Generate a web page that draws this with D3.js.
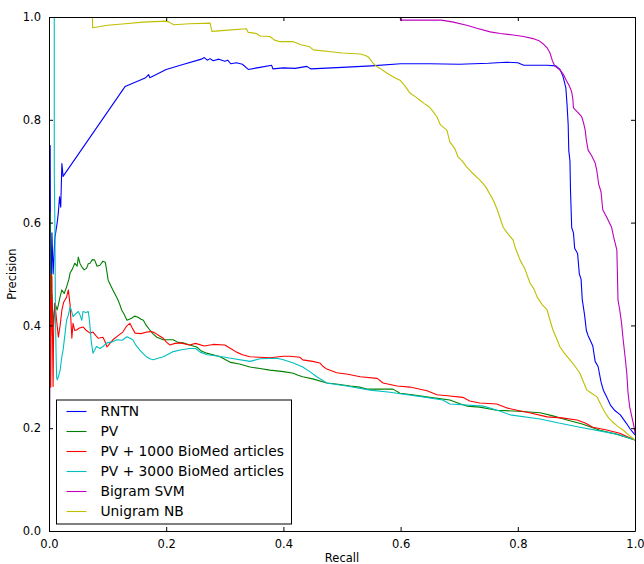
<!DOCTYPE html>
<html>
<head>
<meta charset="utf-8">
<script src="https://cdn.jsdelivr.net/npm/d3@7"></script>
<style>
  body { margin: 0; background: #fff; }
  svg text { font-family: "DejaVu Sans", sans-serif; fill: #000; }
  .axis path, .axis line { stroke: #000; }
</style>
</head>
<body>
<svg id="chart" width="644" height="564"></svg>
<script>
// series labels + colours (matplotlib classic cycle)
var seriesNames = ["RNTN", "PV", "PV + 1000 BioMed articles", "PV + 3000 BioMed articles", "Bigram SVM", "Unigram NB"];
var seriesColors = ["#0000ff", "#008000", "#ff0000", "#00bfbf", "#bf00bf", "#bfbf00"];
var tickValues = [0.0, 0.2, 0.4, 0.6, 0.8, 1.0];

// [recall, precision]
var rntnPts = [[0.001,0.20],[0.002,0.75],[0.003,0.42],[0.005,0.58],[0.007,0.50],[0.010,0.57],[0.014,0.60],[0.016,0.62],[0.018,0.65],[0.020,0.63],[0.022,0.715],[0.024,0.69],[0.13,0.865],[0.165,0.882],[0.170,0.888],[0.172,0.882],[0.20,0.898],[0.23,0.908],[0.26,0.918],[0.265,0.921],[0.27,0.916],[0.275,0.919],[0.28,0.915],[0.29,0.918],[0.30,0.914],[0.305,0.916],[0.31,0.909],[0.32,0.911],[0.33,0.908],[0.34,0.898],[0.36,0.902],[0.38,0.906],[0.382,0.899],[0.40,0.901],[0.42,0.900],[0.44,0.904],[0.447,0.899],[0.50,0.902],[0.55,0.905],[0.60,0.909],[0.65,0.909],[0.70,0.908],[0.75,0.910],[0.78,0.912],[0.80,0.911],[0.81,0.906],[0.85,0.906],[0.865,0.905],[0.872,0.898],[0.877,0.885],[0.882,0.862],[0.884,0.83],[0.886,0.79],[0.887,0.74],[0.889,0.72],[0.890,0.66],[0.892,0.59],[0.895,0.58],[0.897,0.55],[0.902,0.54],[0.905,0.50],[0.908,0.49],[0.910,0.45],[0.914,0.42],[0.917,0.39],[0.92,0.38],[0.924,0.37],[0.928,0.36],[0.932,0.33],[0.937,0.32],[0.942,0.29],[0.946,0.274],[0.952,0.26],[0.958,0.245],[0.965,0.235],[0.975,0.226],[0.985,0.21],[0.992,0.198],[1.0,0.187]];

var pvPts = [[0.0,1.0],[0.001,0.50],[0.002,0.62],[0.003,0.38],[0.005,0.46],[0.007,0.40],[0.010,0.443],[0.014,0.43],[0.019,0.456],[0.022,0.469],[0.026,0.462],[0.030,0.475],[0.034,0.49],[0.036,0.502],[0.040,0.51],[0.044,0.521],[0.048,0.515],[0.050,0.533],[0.053,0.52],[0.056,0.514],[0.060,0.508],[0.064,0.511],[0.067,0.52],[0.070,0.521],[0.074,0.528],[0.078,0.527],[0.082,0.515],[0.087,0.517],[0.092,0.525],[0.096,0.523],[0.098,0.51],[0.101,0.488],[0.105,0.478],[0.109,0.469],[0.113,0.46],[0.118,0.449],[0.121,0.44],[0.124,0.43],[0.128,0.422],[0.133,0.41],[0.137,0.412],[0.141,0.414],[0.146,0.418],[0.152,0.416],[0.157,0.412],[0.161,0.41],[0.166,0.40],[0.172,0.391],[0.178,0.383],[0.184,0.377],[0.195,0.372],[0.212,0.372],[0.22,0.367],[0.229,0.366],[0.24,0.362],[0.252,0.358],[0.26,0.35],[0.269,0.346],[0.28,0.343],[0.292,0.339],[0.31,0.328],[0.325,0.325],[0.343,0.319],[0.36,0.316],[0.377,0.313],[0.40,0.31],[0.417,0.307],[0.425,0.303],[0.433,0.30],[0.45,0.296],[0.474,0.288],[0.49,0.286],[0.514,0.282],[0.53,0.28],[0.542,0.276],[0.587,0.276],[0.599,0.268],[0.62,0.265],[0.65,0.26],[0.684,0.255],[0.70,0.248],[0.713,0.243],[0.735,0.241],[0.764,0.235],[0.80,0.233],[0.838,0.23],[0.86,0.224],[0.884,0.216],[0.91,0.208],[0.94,0.196],[0.97,0.188],[1.0,0.177]];

var pv1000Pts = [[0.0,0.0],[0.001,0.25],[0.002,0.45],[0.003,0.28],[0.004,0.5],[0.005,0.495],[0.006,0.38],[0.007,0.281],[0.008,0.40],[0.010,0.443],[0.013,0.41],[0.016,0.377],[0.019,0.40],[0.022,0.43],[0.025,0.445],[0.027,0.449],[0.030,0.455],[0.033,0.469],[0.036,0.44],[0.039,0.375],[0.041,0.404],[0.044,0.39],[0.047,0.391],[0.052,0.395],[0.058,0.397],[0.064,0.39],[0.070,0.385],[0.075,0.387],[0.080,0.38],[0.084,0.375],[0.092,0.377],[0.095,0.37],[0.099,0.358],[0.104,0.365],[0.109,0.372],[0.118,0.38],[0.126,0.387],[0.132,0.398],[0.138,0.404],[0.142,0.395],[0.147,0.385],[0.157,0.384],[0.167,0.387],[0.175,0.388],[0.181,0.385],[0.188,0.38],[0.195,0.375],[0.20,0.368],[0.206,0.362],[0.215,0.365],[0.224,0.366],[0.24,0.362],[0.25,0.365],[0.265,0.36],[0.28,0.363],[0.30,0.362],[0.31,0.355],[0.32,0.348],[0.33,0.343],[0.343,0.339],[0.377,0.337],[0.40,0.34],[0.411,0.34],[0.428,0.338],[0.433,0.333],[0.45,0.33],[0.462,0.327],[0.468,0.32],[0.474,0.315],[0.491,0.308],[0.51,0.305],[0.531,0.30],[0.56,0.297],[0.57,0.288],[0.594,0.282],[0.616,0.28],[0.645,0.273],[0.662,0.265],[0.68,0.263],[0.706,0.26],[0.718,0.253],[0.735,0.249],[0.764,0.247],[0.783,0.239],[0.799,0.235],[0.82,0.23],[0.85,0.222],[0.875,0.22],[0.901,0.216],[0.915,0.21],[0.928,0.202],[0.95,0.197],[0.974,0.19],[0.99,0.182],[1.0,0.177]];

var pv3000Pts = [[0.009,1.0],[0.009,0.70],[0.010,0.60],[0.011,0.42],[0.012,0.35],[0.013,0.30],[0.014,0.294],[0.016,0.30],[0.019,0.313],[0.022,0.34],[0.024,0.352],[0.027,0.38],[0.030,0.41],[0.033,0.42],[0.036,0.436],[0.038,0.43],[0.041,0.417],[0.045,0.422],[0.050,0.427],[0.053,0.42],[0.056,0.41],[0.058,0.427],[0.063,0.425],[0.067,0.427],[0.069,0.41],[0.070,0.397],[0.072,0.37],[0.075,0.346],[0.078,0.352],[0.081,0.359],[0.087,0.355],[0.092,0.359],[0.099,0.366],[0.108,0.368],[0.116,0.372],[0.125,0.371],[0.133,0.378],[0.138,0.375],[0.143,0.372],[0.148,0.362],[0.155,0.352],[0.165,0.34],[0.172,0.335],[0.178,0.333],[0.186,0.336],[0.195,0.339],[0.205,0.345],[0.212,0.349],[0.224,0.352],[0.24,0.355],[0.25,0.355],[0.258,0.348],[0.27,0.343],[0.29,0.34],[0.31,0.336],[0.343,0.33],[0.36,0.335],[0.389,0.336],[0.40,0.333],[0.417,0.327],[0.433,0.319],[0.445,0.31],[0.457,0.30],[0.474,0.288],[0.49,0.285],[0.508,0.282],[0.548,0.274],[0.582,0.27],[0.599,0.267],[0.638,0.261],[0.672,0.255],[0.684,0.247],[0.741,0.243],[0.765,0.235],[0.787,0.226],[0.838,0.218],[0.87,0.21],[0.906,0.202],[0.962,0.19],[0.985,0.183],[1.0,0.177]];

var bigramPts = [[0.565,1.0],[0.599,1.0],[0.600,0.994],[0.67,0.994],[0.69,0.99],[0.713,0.984],[0.73,0.978],[0.753,0.971],[0.77,0.968],[0.792,0.965],[0.81,0.962],[0.826,0.958],[0.836,0.954],[0.843,0.948],[0.85,0.94],[0.855,0.93],[0.859,0.915],[0.863,0.905],[0.872,0.897],[0.878,0.888],[0.883,0.876],[0.888,0.866],[0.892,0.854],[0.894,0.84],[0.895,0.823],[0.902,0.815],[0.909,0.806],[0.912,0.795],[0.915,0.78],[0.917,0.76],[0.920,0.741],[0.926,0.73],[0.932,0.716],[0.935,0.70],[0.938,0.675],[0.942,0.66],[0.945,0.625],[0.952,0.61],[0.960,0.591],[0.964,0.57],[0.969,0.547],[0.970,0.50],[0.971,0.449],[0.974,0.43],[0.977,0.405],[0.980,0.37],[0.983,0.34],[0.986,0.307],[0.988,0.27],[0.991,0.241],[0.995,0.22],[0.998,0.205],[1.0,0.19]];

var unigramPts = [[0.0,1.0],[0.074,1.0],[0.0745,0.979],[0.10,0.984],[0.13,0.987],[0.16,0.99],[0.20,0.992],[0.205,0.99],[0.213,0.985],[0.24,0.987],[0.275,0.988],[0.278,0.972],[0.30,0.974],[0.337,0.977],[0.340,0.970],[0.354,0.968],[0.360,0.963],[0.377,0.962],[0.385,0.955],[0.394,0.952],[0.417,0.952],[0.43,0.946],[0.445,0.942],[0.451,0.936],[0.485,0.932],[0.50,0.930],[0.531,0.928],[0.540,0.925],[0.545,0.922],[0.550,0.915],[0.553,0.91],[0.560,0.903],[0.565,0.9],[0.575,0.892],[0.582,0.887],[0.590,0.882],[0.599,0.877],[0.608,0.865],[0.616,0.852],[0.625,0.845],[0.633,0.838],[0.640,0.832],[0.650,0.824],[0.656,0.815],[0.662,0.806],[0.668,0.79],[0.679,0.78],[0.684,0.757],[0.692,0.745],[0.698,0.728],[0.705,0.72],[0.713,0.708],[0.722,0.697],[0.735,0.683],[0.745,0.67],[0.758,0.644],[0.765,0.625],[0.775,0.591],[0.782,0.58],[0.792,0.566],[0.796,0.55],[0.804,0.527],[0.812,0.51],[0.821,0.482],[0.828,0.47],[0.833,0.455],[0.842,0.44],[0.85,0.43],[0.855,0.41],[0.860,0.391],[0.866,0.375],[0.872,0.358],[0.880,0.345],[0.889,0.333],[0.898,0.32],[0.906,0.307],[0.912,0.29],[0.918,0.274],[0.926,0.268],[0.935,0.261],[0.942,0.245],[0.949,0.23],[0.955,0.22],[0.962,0.212],[0.97,0.204],[0.98,0.196],[0.99,0.186],[1.0,0.177]];

var allSeries = [rntnPts, pvPts, pv1000Pts, pv3000Pts, bigramPts, unigramPts];

var margin = {top: 17, right: 9, bottom: 33, left: 49};
var svg = d3.select("#chart");
var width = 644 - margin.left - margin.right;
var height = 564 - margin.top - margin.bottom;

var g = svg.append("g").attr("transform", "translate(" + margin.left + "," + margin.top + ")");

var x = d3.scaleLinear().domain([0, 1]).range([0, width]);
var y = d3.scaleLinear().domain([0, 1]).range([height, 0]);

// clip so nothing spills over the frame
g.append("clipPath").attr("id", "plotclip")
  .append("rect").attr("x", 0).attr("y", 0).attr("width", width).attr("height", height);

var line = d3.line()
  .x(function(d) { return x(d[0]); })
  .y(function(d) { return y(d[1]); });

g.append("g").attr("clip-path", "url(#plotclip)")
  .selectAll("path")
  .data(allSeries)
  .enter()
  .append("path")
  .attr("d", line)
  .attr("fill", "none")
  .attr("stroke", function(d, i) { return seriesColors[i]; })
  .attr("stroke-width", 1.1)
  .attr("stroke-linejoin", "round");

var fmt = d3.format(".1f");

// axes with inward ticks on all four sides
g.append("g").attr("class", "axis")
  .attr("transform", "translate(0," + height + ")")
  .call(d3.axisBottom(x).tickValues(tickValues).tickFormat(fmt).tickSizeInner(-4).tickSizeOuter(0).tickPadding(9));
g.append("g").attr("class", "axis")
  .call(d3.axisLeft(y).tickValues(tickValues).tickFormat(fmt).tickSizeInner(-4).tickSizeOuter(0).tickPadding(8));
g.append("g").attr("class", "axis")
  .call(d3.axisTop(x).tickValues(tickValues).tickFormat("").tickSizeInner(-4).tickSizeOuter(0));
g.append("g").attr("class", "axis")
  .attr("transform", "translate(" + width + ",0)")
  .call(d3.axisRight(y).tickValues(tickValues).tickFormat("").tickSizeInner(-4).tickSizeOuter(0));

svg.selectAll(".axis text").style("font-size", "11.5px").style("font-family", "DejaVu Sans");
svg.selectAll(".axis path").attr("stroke-width", 1);

// axis titles
g.append("text")
  .attr("x", width / 2)
  .attr("y", height + 31)
  .attr("text-anchor", "middle")
  .style("font-size", "11.5px")
  .text("Recall");

g.append("text")
  .attr("transform", "translate(" + (-33) + "," + (height / 2) + ") rotate(-90)")
  .attr("text-anchor", "middle")
  .style("font-size", "11.5px")
  .text("Precision");

// legend, lower left
var legend = g.append("g").attr("transform", "translate(7.5," + (height - 131) + ")");
legend.append("rect")
  .attr("width", 235)
  .attr("height", 124)
  .attr("fill", "#fff")
  .attr("stroke", "#000")
  .attr("stroke-width", 1);

var rows = legend.selectAll(".row")
  .data(seriesNames)
  .enter()
  .append("g")
  .attr("class", "row")
  .attr("transform", function(d, i) { return "translate(0," + (11.5 + i * 20) + ")"; });

rows.append("line")
  .attr("x1", 10).attr("x2", 30)
  .attr("y1", 0).attr("y2", 0)
  .attr("stroke", function(d) { return seriesColors[seriesNames.indexOf(d)]; })
  .attr("stroke-width", 1.1);

rows.append("text")
  .attr("x", 44)
  .attr("dy", "0.36em")
  .style("font-size", "13.8px")
  .text(function(d) { return d; });
</script>
</body>
</html>
